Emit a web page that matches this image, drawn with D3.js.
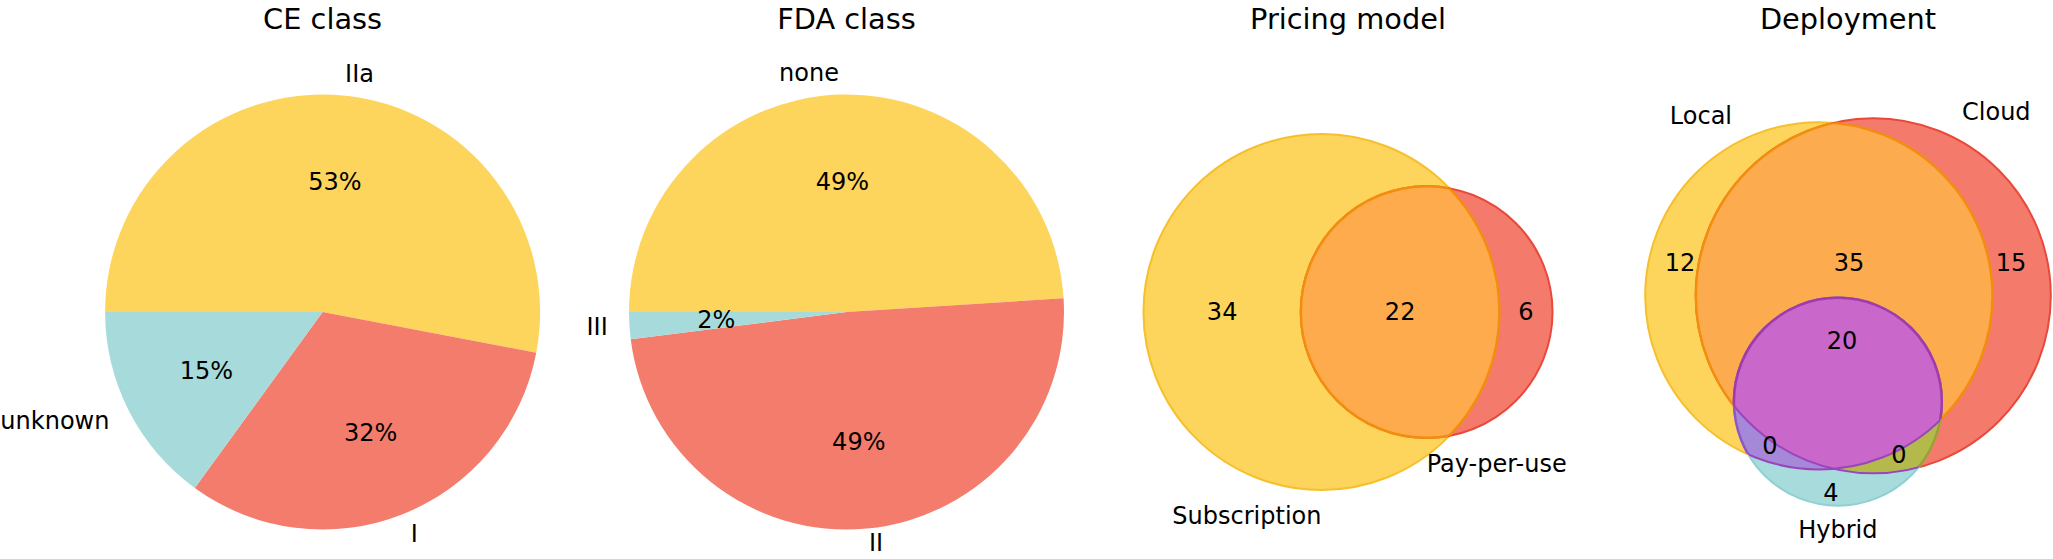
<!DOCTYPE html>
<html>
<head>
<meta charset="utf-8">
<script src="https://cdn.jsdelivr.net/npm/d3@7"></script>
<style>
  body { margin: 0; background: #fff; }
  text { font-family: "DejaVu Sans", sans-serif; fill: #000; }
</style>
</head>
<body>
<svg id="chart"></svg>
<script>
// ---- data ----
const titles = ["CE class", "FDA class", "Pricing model", "Deployment"];

const ceLabels = ["IIa", "I", "unknown"];
const ceValues = [53, 32, 15];

const fdaLabels = ["none", "II", "III"];
const fdaValues = [49, 49, 2];

// venn2: only A, only B, A and B
const pricingSets = ["Subscription", "Pay-per-use"];
const pricingCounts = [34, 6, 22];

// venn3 regions as bit strings Local/Cloud/Hybrid
const deploySets = ["Local", "Cloud", "Hybrid"];
const deployRegions = ["100", "010", "110", "001", "101", "011", "111"];
const deployCounts = [12, 15, 35, 4, 0, 0, 20];

// ---- layout ----
const W = 2053, H = 559;
const CY = 312;            // panel centre
const panelX = [322.6, 846.5, 1348, 1848];
const R = 217.5;
const pieColors = ["#fdd55c", "#f47c6c", "#a7dbdb"];

const svg = d3.select("#chart").attr("width", W).attr("height", H);
const defs = svg.append("defs");
const root = svg.append("g");

// titles
root.selectAll("text.title")
  .data(titles)
  .join("text")
  .attr("class", "title")
  .attr("x", (d, i) => panelX[i])
  .attr("y", 29)
  .attr("text-anchor", "middle")
  .style("font-size", "28.8px")
  .text(d => d);

function drawPie(cx, labels, values) {
  const g = root.append("g").attr("transform", `translate(${cx},${CY})`);
  const total = d3.sum(values);
  // matplotlib: startangle 180, clockwise
  const pie = d3.pie().sort(null).startAngle(-Math.PI / 2).endAngle(1.5 * Math.PI);
  const arcs = pie(values);
  const arc = d3.arc().innerRadius(0).outerRadius(R);
  const pctArc = d3.arc().innerRadius(R * 0.6).outerRadius(R * 0.6);
  const lblArc = d3.arc().innerRadius(R * 1.1).outerRadius(R * 1.1);

  g.selectAll("path").data(arcs).join("path")
    .attr("d", arc)
    .attr("fill", (d, i) => pieColors[i]);

  g.selectAll("text.pct").data(arcs).join("text")
    .attr("class", "pct")
    .attr("transform", d => `translate(${pctArc.centroid(d)})`)
    .attr("text-anchor", "middle")
    .attr("dominant-baseline", "central")
    .style("font-size", "24px")
    .text(d => Math.round(d.value / total * 100) + "%");

  // keep labels inside the picture
  const maxY = H - 16 - CY;
  g.selectAll("text.lbl").data(arcs).join("text")
    .attr("class", "lbl")
    .attr("transform", d => {
      const [x, y] = lblArc.centroid(d);
      return `translate(${x},${Math.min(y, maxY)})`;
    })
    .attr("text-anchor", d => lblArc.centroid(d)[0] > 0 ? "start" : "end")
    .attr("dominant-baseline", "central")
    .style("font-size", "24px")
    .text((d, i) => labels[i]);
}

drawPie(panelX[0], ceLabels, ceValues);
drawPie(panelX[1], fdaLabels, fdaValues);

// ---- venn helpers ----
function lensArea(r1, r2, d) {
  if (d >= r1 + r2) return 0;
  if (d <= Math.abs(r1 - r2)) return Math.PI * Math.min(r1, r2) ** 2;
  const a1 = Math.acos((d * d + r1 * r1 - r2 * r2) / (2 * d * r1));
  const a2 = Math.acos((d * d + r2 * r2 - r1 * r1) / (2 * d * r2));
  const k = Math.sqrt((-d + r1 + r2) * (d + r1 - r2) * (d - r1 + r2) * (d + r1 + r2));
  return r1 * r1 * a1 + r2 * r2 * a2 - 0.5 * k;
}
function solveDist(r1, r2, area) {
  let lo = Math.abs(r1 - r2), hi = r1 + r2;
  for (let i = 0; i < 60; i++) {
    const mid = (lo + hi) / 2;
    if (lensArea(r1, r2, mid) > area) lo = mid; else hi = mid;
  }
  return (lo + hi) / 2;
}
let clipId = 0;
function clipTo(c) {
  const id = "clip" + (clipId++);
  defs.append("clipPath").attr("id", id)
    .append("circle").attr("cx", c.x).attr("cy", c.y).attr("r", c.r);
  return `url(#${id})`;
}
function circ(g, c, fill, stroke, sw) {
  return g.append("circle").attr("cx", c.x).attr("cy", c.y).attr("r", c.r)
    .attr("fill", fill).attr("stroke", stroke).attr("stroke-width", sw || 2);
}

// ---- Pricing model (venn2) ----
{
  const sizeA = pricingCounts[0] + pricingCounts[2];
  const sizeB = pricingCounts[1] + pricingCounts[2];
  const rs = d3.scaleSqrt().domain([0, d3.max([sizeA, sizeB])]).range([0, 178]);
  const rA = rs(sizeA), rB = rs(sizeB);
  const unit = Math.PI * rA * rA / sizeA;
  const d = solveDist(rA, rB, pricingCounts[2] * unit);
  const left = panelX[2] - (rA + d + rB) / 2;
  const A = {x: left + rA, y: CY, r: rA};
  const B = {x: left + rA + d, y: CY, r: rB};
  const g = root.append("g");
  circ(g, A, "#fdd55c", "#f6bf2c");
  circ(g, B, "#f47b6b", "#e9493b");
  const inA = g.append("g").attr("clip-path", clipTo(A));
  circ(inA, B, "#fdab4d", "#f28d0e", 2.5);
  g.append("g").attr("clip-path", clipTo(B))
    .call(s => circ(s, A, "none", "#f28d0e", 2.5));

  // region numbers at the middle of each horizontal span
  const numX = [
    ((A.x - A.r) + (B.x - B.r)) / 2,
    ((A.x + A.r) + (B.x + B.r)) / 2,
    ((B.x - B.r) + (A.x + A.r)) / 2
  ];
  g.selectAll("text.num").data(pricingCounts).join("text")
    .attr("class", "num")
    .attr("x", (v, i) => numX[i]).attr("y", CY)
    .attr("text-anchor", "middle").attr("dominant-baseline", "central")
    .style("font-size", "24px")
    .text(v => v);

  g.append("text").attr("x", A.x).attr("y", A.y + A.r + 34)
    .attr("text-anchor", "end").style("font-size", "24px").text(pricingSets[0]);
  g.append("text").attr("x", B.x).attr("y", B.y + B.r + 34)
    .attr("text-anchor", "start").style("font-size", "24px").text(pricingSets[1]);
}

// ---- Deployment (venn3) ----
{
  const setSize = k => d3.sum(deployRegions.map((r, i) => r[k] === "1" ? deployCounts[i] : 0));
  const pairSize = (a, b) => d3.sum(deployRegions.map((r, i) => r[a] === "1" && r[b] === "1" ? deployCounts[i] : 0));
  const sizes = [0, 1, 2].map(setSize);
  const rs = d3.scaleSqrt().domain([0, d3.max(sizes)]).range([0, 177.5]);
  const r = sizes.map(rs);
  const unit = Math.PI * r[1] * r[1] / sizes[1];
  const dLC = solveDist(r[0], r[1], pairSize(0, 1) * unit);
  const dLH = solveDist(r[0], r[2], pairSize(0, 2) * unit);
  const dCH = solveDist(r[1], r[2], pairSize(1, 2) * unit);
  const hx = (dLH * dLH - dCH * dCH + dLC * dLC) / (2 * dLC);
  const hy = Math.sqrt(Math.max(0, dLH * dLH - hx * hx));
  const raw = [{x: 0, y: 0}, {x: dLC, y: 0}, {x: hx, y: hy}];
  const x0 = d3.min(raw, (p, i) => p.x - r[i]), x1 = d3.max(raw, (p, i) => p.x + r[i]);
  const y0 = d3.min(raw, (p, i) => p.y - r[i]), y1 = d3.max(raw, (p, i) => p.y + r[i]);
  const ox = panelX[3] - (x0 + x1) / 2, oy = CY - (y0 + y1) / 2;
  const [L, C, Hc] = raw.map((p, i) => ({x: p.x + ox, y: p.y + oy, r: r[i]}));

  const g = root.append("g");
  circ(g, L, "#fdd55c", "#f6bf2c");
  circ(g, C, "#f47b6b", "#e9493b");
  const clipL = clipTo(L), clipC = clipTo(C), clipH = clipTo(Hc);
  circ(g.append("g").attr("clip-path", clipL), C, "#fdab4f", "#f28d0e", 2.5);
  circ(g.append("g").attr("clip-path", clipC), L, "none", "#f28d0e", 2.5);
  circ(g, Hc, "#a8dbdb", "#8fd0d0");
  circ(g.append("g").attr("clip-path", clipL), Hc, "#a688d8", "#9156c4", 2.5);
  circ(g.append("g").attr("clip-path", clipC), Hc, "#b4b94c", "#9aa032", 2.5);
  const both = g.append("g").attr("clip-path", clipL).append("g").attr("clip-path", clipC);
  circ(both, Hc, "#c967cb", "#a23aae", 2.5);
  circ(g.append("g").attr("clip-path", clipH), L, "none", "#9a45bb", 2);
  circ(g.append("g").attr("clip-path", clipH), C, "none", "#9a45bb", 2);

  // region number offsets from panel centre
  const numOffset = {
    "100": [-168, -49], "010": [163, -49], "110": [1, -49],
    "001": [-17, 181], "101": [-78, 134], "011": [51, 143], "111": [-6, 29]
  };
  g.selectAll("text.num").data(deployRegions).join("text")
    .attr("class", "num")
    .attr("x", k => panelX[3] + numOffset[k][0])
    .attr("y", k => CY + numOffset[k][1])
    .attr("text-anchor", "middle").attr("dominant-baseline", "central")
    .style("font-size", "24px")
    .text((k, i) => deployCounts[i]);

  g.append("text").attr("x", L.x - L.r / 2).attr("y", L.y - L.r + 2)
    .attr("text-anchor", "end").style("font-size", "24px").text(deploySets[0]);
  g.append("text").attr("x", C.x + C.r / 2).attr("y", C.y - C.r + 2)
    .attr("text-anchor", "start").style("font-size", "24px").text(deploySets[1]);
  g.append("text").attr("x", Hc.x).attr("y", Hc.y + Hc.r + 32)
    .attr("text-anchor", "middle").style("font-size", "24px").text(deploySets[2]);
}
</script>
</body>
</html>
